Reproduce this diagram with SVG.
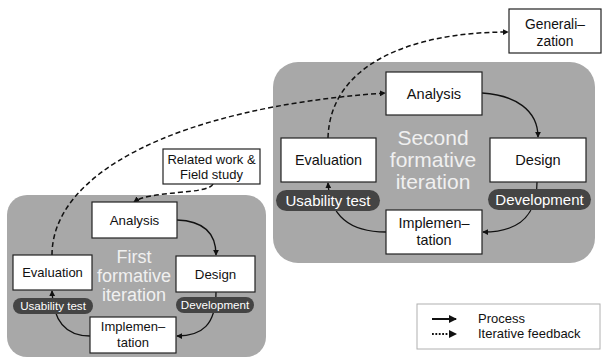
<svg xmlns="http://www.w3.org/2000/svg" width="602" height="360" viewBox="0 0 602 360">
<defs>
<style>
.bg{fill:#a8a8a8;}
.box{fill:#fff;stroke:#222;stroke-width:1.2;}
.pill{fill:#444;}
.t{font-family:"Liberation Sans",Arial,sans-serif;fill:#111;text-anchor:middle;}
.pt{font-family:"Liberation Sans",Arial,sans-serif;fill:#fff;text-anchor:middle;}
.ct{font-family:"Liberation Sans",Arial,sans-serif;fill:#f0f0f0;text-anchor:middle;}
.proc{fill:none;stroke:#111;stroke-width:1.3;marker-end:url(#ah);}
.fb{fill:none;stroke:#111;stroke-width:1.5;stroke-dasharray:5,3;marker-end:url(#ah);}
.lg{font-family:"Liberation Sans",Arial,sans-serif;fill:#111;font-size:13px;}
</style>
<marker id="ah" viewBox="0 0 8 8" refX="7" refY="4" markerWidth="6" markerHeight="6" markerUnits="userSpaceOnUse" orient="auto">
<path d="M0,0 L8,4 L0,8 z" fill="#111"/>
</marker>
<marker id="ah2" viewBox="0 0 8 8" refX="7" refY="4" markerWidth="8" markerHeight="8" markerUnits="userSpaceOnUse" orient="auto">
<path d="M0,0 L8,4 L0,8 z" fill="#111"/>
</marker>
</defs>

<g id="iteration1-bg">
<rect class="bg" x="7" y="195" width="259" height="162" rx="20"/>
<text class="ct" font-size="18" x="134" y="263">First</text>
<text class="ct" font-size="18" x="134" y="282">formative</text>
<text class="ct" font-size="18" x="134" y="301">iteration</text>
</g>
<g id="iteration2-bg">
<rect class="bg" x="273" y="62" width="322" height="201" rx="25"/>
<text class="ct" font-size="21" x="433" y="145">Second</text>
<text class="ct" font-size="21" x="433" y="167">formative</text>
<text class="ct" font-size="21" x="433" y="189">iteration</text>
</g>

<g id="connectors">
<path class="proc" d="M177,220 C205,221 216,234 216,255"/>
<path class="proc" d="M216,292 C216,325 202,336 177,336"/>
<path class="proc" d="M90,336 C66,336 53,322 52,291"/>
<path class="proc" d="M482,93 C515,95 538,110 538,137"/>
<path class="proc" d="M537,182 C537,222 512,232 483,232"/>
<path class="proc" d="M386,232 C350,232 330,216 328,183"/>
<path class="fb" d="M213,184 C208,195 150,190 134,202"/>
<path class="fb" d="M52,255 C52,175 172,108 385,93"/>
<path class="fb" d="M328,138 C330,65 410,32 508,32"/>
</g>

<g id="related-work">
<rect class="box" x="163" y="149" width="97" height="35"/>
<text class="t" font-size="13" x="211.5" y="164">Related work &amp;</text>
<text class="t" font-size="13" x="211.5" y="179">Field study</text>
</g>
<g id="analysis1">
<rect class="box" x="92" y="202" width="85" height="36"/>
<text class="t" font-size="13.3" x="134.5" y="225">Analysis</text>
</g>
<g id="evaluation1">
<rect class="box" x="13" y="255" width="79" height="35"/>
<text class="t" font-size="13" x="52.5" y="277">Evaluation</text>
</g>
<g id="design1">
<rect class="box" x="176" y="256" width="79" height="36"/>
<text class="t" font-size="13.3" x="215.5" y="279">Design</text>
</g>
<g id="implementation1">
<rect class="box" x="90" y="317" width="86" height="36"/>
<text class="t" font-size="13" x="133" y="331">Implemen–</text>
<text class="t" font-size="13" x="133" y="347">tation</text>
</g>
<g id="usability1">
<rect class="pill" x="13" y="298" width="80" height="16" rx="8"/>
<text class="pt" font-size="11.6" x="53" y="310">Usability test</text>
</g>
<g id="development1">
<rect class="pill" x="176" y="297" width="78" height="16" rx="8"/>
<text class="pt" font-size="11.6" x="215" y="309">Development</text>
</g>

<g id="analysis2">
<rect class="box" x="386" y="72" width="96" height="43"/>
<text class="t" font-size="14.6" x="434" y="99">Analysis</text>
</g>
<g id="evaluation2">
<rect class="box" x="281" y="138" width="95" height="44"/>
<text class="t" font-size="14.4" x="328.5" y="165">Evaluation</text>
</g>
<g id="design2">
<rect class="box" x="490" y="138" width="96" height="44"/>
<text class="t" font-size="14.6" x="538" y="165">Design</text>
</g>
<g id="implementation2">
<rect class="box" x="386" y="210" width="96" height="44"/>
<text class="t" font-size="14.4" x="434" y="228">Implemen–</text>
<text class="t" font-size="14.4" x="434" y="245">tation</text>
</g>
<g id="usability2">
<rect class="pill" x="276" y="190" width="104" height="21" rx="10.5"/>
<text class="pt" font-size="15" x="328" y="206">Usability test</text>
</g>
<g id="development2">
<rect class="pill" x="488" y="189" width="103" height="21" rx="10.5"/>
<text class="pt" font-size="15" x="539.5" y="205">Development</text>
</g>
<g id="generalization">
<rect class="box" x="509" y="9" width="92" height="44"/>
<text class="t" font-size="13.8" x="555" y="29">Generali–</text>
<text class="t" font-size="13.8" x="555" y="46">zation</text>
</g>

<g id="legend">
<rect x="417" y="304" width="183" height="45" fill="#fff" stroke="#b0b0b0" stroke-width="1"/>
<line x1="432" y1="319" x2="456" y2="319" stroke="#111" stroke-width="2" marker-end="url(#ah2)"/>
<line x1="432" y1="334" x2="456" y2="334" stroke="#111" stroke-width="1.8" stroke-dasharray="1.8,1.6" marker-end="url(#ah2)"/>
<text class="lg" x="478" y="323">Process</text>
<text class="lg" x="478" y="338">Iterative feedback</text>
</g>
</svg>
